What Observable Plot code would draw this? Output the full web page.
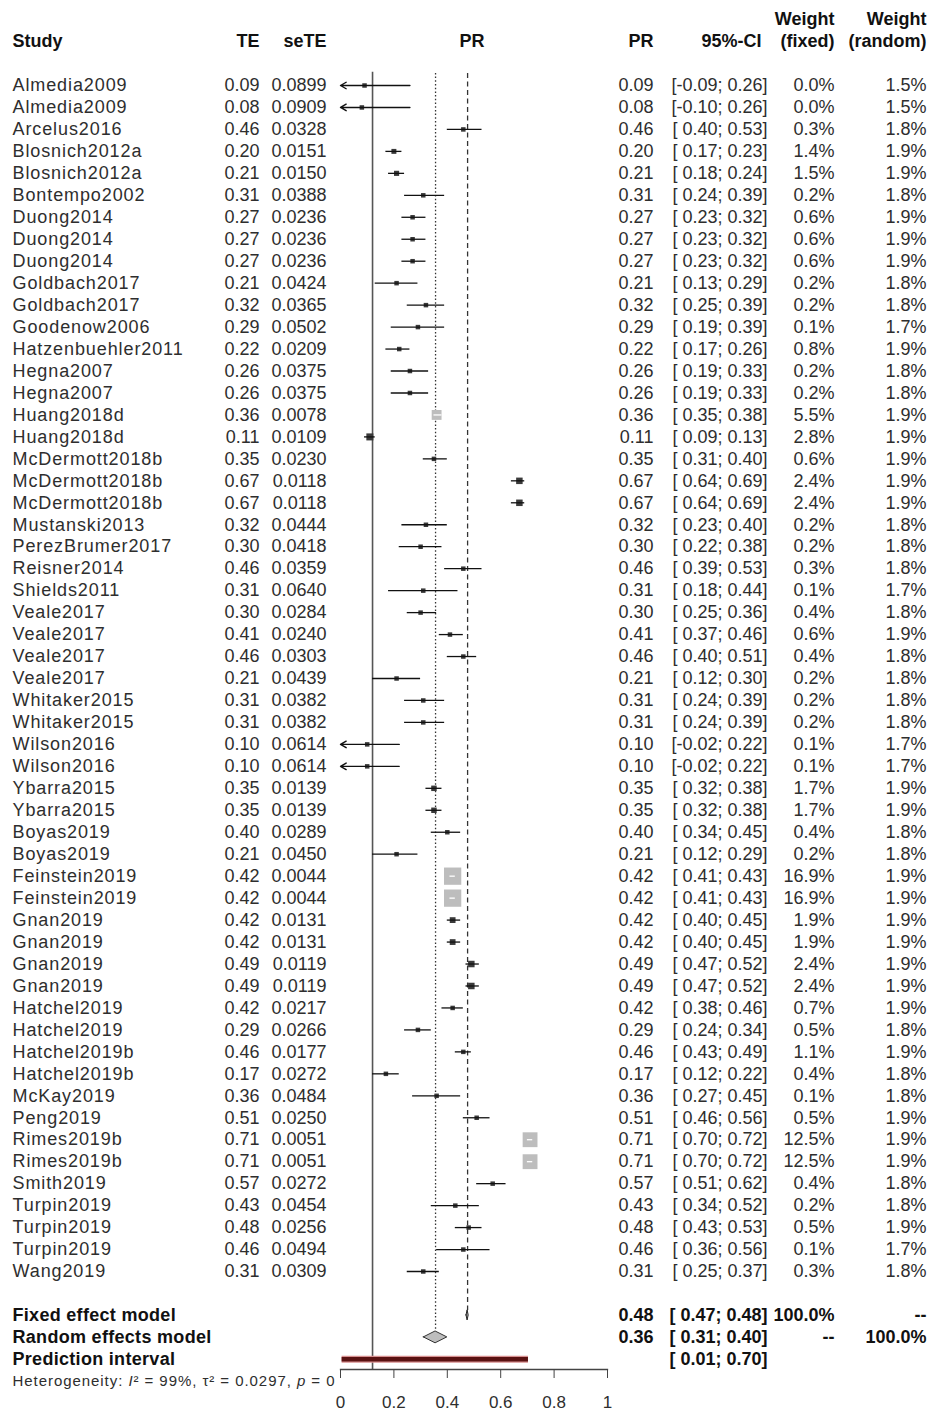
<!DOCTYPE html>
<html>
<head>
<meta charset="utf-8">
<script src="https://cdn.jsdelivr.net/npm/d3@7"></script>
<script src="https://cdn.jsdelivr.net/npm/@observablehq/plot@0.6"></script>
<style>
  html, body { margin: 0; padding: 0; background: #fff; }
  #chart svg { display: block; }
</style>
</head>
<body>
<div id="chart"></div>
<script>
// ---------------- data ----------------
const studies = ["Almedia2009","Almedia2009","Arcelus2016","Blosnich2012a","Blosnich2012a","Bontempo2002","Duong2014","Duong2014","Duong2014","Goldbach2017","Goldbach2017","Goodenow2006","Hatzenbuehler2011","Hegna2007","Hegna2007","Huang2018d","Huang2018d","McDermott2018b","McDermott2018b","McDermott2018b","Mustanski2013","PerezBrumer2017","Reisner2014","Shields2011","Veale2017","Veale2017","Veale2017","Veale2017","Whitaker2015","Whitaker2015","Wilson2016","Wilson2016","Ybarra2015","Ybarra2015","Boyas2019","Boyas2019","Feinstein2019","Feinstein2019","Gnan2019","Gnan2019","Gnan2019","Gnan2019","Hatchel2019","Hatchel2019","Hatchel2019b","Hatchel2019b","McKay2019","Peng2019","Rimes2019b","Rimes2019b","Smith2019","Turpin2019","Turpin2019","Turpin2019","Wang2019"];
const TE = [0.09,0.08,0.46,0.20,0.21,0.31,0.27,0.27,0.27,0.21,0.32,0.29,0.22,0.26,0.26,0.36,0.11,0.35,0.67,0.67,0.32,0.30,0.46,0.31,0.30,0.41,0.46,0.21,0.31,0.31,0.10,0.10,0.35,0.35,0.40,0.21,0.42,0.42,0.42,0.42,0.49,0.49,0.42,0.29,0.46,0.17,0.36,0.51,0.71,0.71,0.57,0.43,0.48,0.46,0.31];
const seTE = [0.0899,0.0909,0.0328,0.0151,0.0150,0.0388,0.0236,0.0236,0.0236,0.0424,0.0365,0.0502,0.0209,0.0375,0.0375,0.0078,0.0109,0.0230,0.0118,0.0118,0.0444,0.0418,0.0359,0.0640,0.0284,0.0240,0.0303,0.0439,0.0382,0.0382,0.0614,0.0614,0.0139,0.0139,0.0289,0.0450,0.0044,0.0044,0.0131,0.0131,0.0119,0.0119,0.0217,0.0266,0.0177,0.0272,0.0484,0.0250,0.0051,0.0051,0.0272,0.0454,0.0256,0.0494,0.0309];
const ciLower = [-0.09,-0.10,0.40,0.17,0.18,0.24,0.23,0.23,0.23,0.13,0.25,0.19,0.17,0.19,0.19,0.35,0.09,0.31,0.64,0.64,0.23,0.22,0.39,0.18,0.25,0.37,0.40,0.12,0.24,0.24,-0.02,-0.02,0.32,0.32,0.34,0.12,0.41,0.41,0.40,0.40,0.47,0.47,0.38,0.24,0.43,0.12,0.27,0.46,0.70,0.70,0.51,0.34,0.43,0.36,0.25];
const ciUpper = [0.26,0.26,0.53,0.23,0.24,0.39,0.32,0.32,0.32,0.29,0.39,0.39,0.26,0.33,0.33,0.38,0.13,0.40,0.69,0.69,0.40,0.38,0.53,0.44,0.36,0.46,0.51,0.30,0.39,0.39,0.22,0.22,0.38,0.38,0.45,0.29,0.43,0.43,0.45,0.45,0.52,0.52,0.46,0.34,0.49,0.22,0.45,0.56,0.72,0.72,0.62,0.52,0.53,0.56,0.37];
const wFixed = [0.0,0.0,0.3,1.4,1.5,0.2,0.6,0.6,0.6,0.2,0.2,0.1,0.8,0.2,0.2,5.5,2.8,0.6,2.4,2.4,0.2,0.2,0.3,0.1,0.4,0.6,0.4,0.2,0.2,0.2,0.1,0.1,1.7,1.7,0.4,0.2,16.9,16.9,1.9,1.9,2.4,2.4,0.7,0.5,1.1,0.4,0.1,0.5,12.5,12.5,0.4,0.2,0.5,0.1,0.3];
const wRandom = [1.5,1.5,1.8,1.9,1.9,1.8,1.9,1.9,1.9,1.8,1.8,1.7,1.9,1.8,1.8,1.9,1.9,1.9,1.9,1.9,1.8,1.8,1.8,1.7,1.8,1.9,1.8,1.8,1.8,1.8,1.7,1.7,1.9,1.9,1.8,1.8,1.9,1.9,1.9,1.9,1.9,1.9,1.9,1.8,1.9,1.8,1.8,1.9,1.9,1.9,1.8,1.8,1.9,1.7,1.8];

const fixedModel  = {label: "Fixed effect model",   TE: 0.476, lower: 0.472, upper: 0.480, wF: "100.0%", wR: "--"};
const randomModel = {label: "Random effects model", TE: 0.356, lower: 0.312, upper: 0.400, wF: "--",     wR: "100.0%"};
const predInterval = {label: "Prediction interval", lower: 0.006, upper: 0.704};
const refLine = 0.12;
const heterogeneity = {I2: 99, tau2: 0.0297, p: 0};
const xTicks = [0, 0.2, 0.4, 0.6, 0.8, 1];

// ---------------- layout ----------------
const W = 932, H = 1412;
const ML = 340, MR = 325, MB = 43;
const ROW0 = 85, ROWH = 21.963;
const nStudies = studies.length;
const rowFixed = nStudies + 1, rowRandom = nStudies + 2, rowPred = nStudies + 3, rowHet = nStudies + 4;
const axisRow = (H - MB - ROW0) / ROWH;
const pxPerUnit = W - ML - MR;
const col = {study: 12, te: 259, se: 326, pr: 653, ci: 767, ciHead: 761, wf: 834, wr: 926};
const FS = 18;
const TXT = "#2e2e2e";
const SQ = "#bdbdbd";
const SQ_DARK = "#3a3a3a";

const fmt2 = v => v.toFixed(2);
const fmtCI = (lo, hi) => "[" + (lo < 0 ? fmt2(lo) : " " + fmt2(lo)) + "; " + fmt2(hi) + "]";

const rows = studies.map((s, i) => {
  const side = Math.max(4.5, 4.2 * Math.sqrt(wFixed[i]));
  const half = side / 2 / pxPerUnit;
  const inside = (TE[i] - 1.96 * seTE[i]) >= TE[i] - half && (TE[i] + 1.96 * seTE[i]) <= TE[i] + half;
  return {
    i, study: s, te: TE[i], se: seTE[i], lo: ciLower[i], hi: ciUpper[i],
    loC: Math.max(0, ciLower[i]), clipped: ciLower[i] < 0,
    r: side / Math.sqrt(Math.PI), inside,
    teTxt: fmt2(TE[i]), seTxt: seTE[i].toFixed(4), ciTxt: fmtCI(ciLower[i], ciUpper[i]),
    wfTxt: wFixed[i].toFixed(1) + "%", wrTxt: wRandom[i].toFixed(1) + "%"
  };
});

const summary = [
  {row: rowFixed, ...fixedModel},
  {row: rowRandom, ...randomModel}
];
const diamond = (m, row, h) => [
  {x: m.lower, y1: row, y2: row},
  {x: m.TE, y1: row - h, y2: row + h},
  {x: m.upper, y1: row, y2: row}
];

const headers = [
  {t: "Study", row: -2, c: col.study, a: "start"},
  {t: "TE", row: -2, c: col.te, a: "end"},
  {t: "seTE", row: -2, c: col.se, a: "end"},
  {t: "PR", row: -2, c: col.pr, a: "end"},
  {t: "95%-CI", row: -2, c: col.ciHead, a: "end"},
  {t: "Weight", row: -3, c: col.wf, a: "end"},
  {t: "(fixed)", row: -2, c: col.wf, a: "end"},
  {t: "Weight", row: -3, c: col.wr, a: "end"},
  {t: "(random)", row: -2, c: col.wr, a: "end"}
];

const textCol = (data, opts) => Plot.text(data, {
  frameAnchor: "left", textAnchor: "end", fontSize: FS, fill: TXT, ...opts,
  dx: opts.dx - ML
});

const hetText = `Heterogeneity: I² = ${heterogeneity.I2}%, τ² = ${heterogeneity.tau2}, p = ${heterogeneity.p}`;

const chart = Plot.plot({
  width: W, height: H,
  marginLeft: ML, marginRight: MR, marginTop: 0, marginBottom: MB,
  style: {fontFamily: "'Liberation Sans', Arial, sans-serif", background: "#fff"},
  x: {domain: [0, 1], axis: null},
  y: {domain: [0, nStudies - 1], range: [ROW0, ROW0 + (nStudies - 1) * ROWH], axis: null},
  r: {type: "identity"},
  marks: [
    // reference lines
    Plot.ruleX([refLine], {y1: -0.6, y2: axisRow, stroke: "#555", strokeWidth: 1.6}),
    Plot.ruleX([randomModel.TE], {y1: -0.55, y2: rowRandom - 0.27, stroke: "#333", strokeWidth: 1.3, strokeDasharray: "1.5,2.2"}),
    Plot.ruleX([fixedModel.TE], {y1: -0.55, y2: rowFixed - 0.23, stroke: "#333", strokeWidth: 1.3, strokeDasharray: "5,3.5"}),
    // squares
    Plot.dot(rows, {x: "te", y: "i", r: "r", symbol: "square", fill: d => d.inside ? SQ : SQ_DARK, stroke: "none"}),
    // CI lines
    Plot.ruleY(rows.filter(d => !d.inside && !d.clipped), {y: "i", x1: "lo", x2: "hi", stroke: "#111", strokeWidth: 1.3}),
    Plot.ruleY(rows.filter(d => d.inside), {y: "i", x1: "lo", x2: "hi", stroke: "#fff", strokeWidth: 1.3}),
    Plot.arrow(rows.filter(d => d.clipped), {x1: "hi", x2: "loC", y1: "i", y2: "i", stroke: "#111", strokeWidth: 1.4, headLength: 7, headAngle: 60}),
    // summary diamonds
    Plot.areaY(diamond(fixedModel, rowFixed, 0.23), {x: "x", y1: "y1", y2: "y2", fill: SQ, stroke: "#222", strokeWidth: 1}),
    Plot.areaY(diamond(randomModel, rowRandom, 0.27), {x: "x", y1: "y1", y2: "y2", fill: SQ, stroke: "#333", strokeWidth: 1}),
    // prediction interval
    Plot.ruleY([predInterval], {y: () => rowPred, x1: "lower", x2: "upper", stroke: "#d89090", strokeWidth: 7}),
    Plot.ruleY([predInterval], {y: () => rowPred, x1: "lower", x2: "upper", stroke: "#5a1212", strokeWidth: 4.5}),
    // x axis
    Plot.frame({anchor: "bottom", stroke: "#444", strokeWidth: 1.3}),
    Plot.axisX({ticks: xTicks, tickFormat: d => String(d), tickSize: 9, tickPadding: 17, fontSize: 17, stroke: "#444", fill: TXT}),
    // headers
    ...headers.map(h => textCol([h], {y: "row", text: "t", dx: h.c, textAnchor: h.a, fontWeight: "bold", fill: "#111"})),
    Plot.text([{t: "PR", row: -2}], {y: "row", text: "t", frameAnchor: "middle", dx: -2, fontSize: FS, fontWeight: "bold", fill: "#111"}),
    // study columns
    textCol(rows, {y: "i", text: "study", dx: col.study, textAnchor: "start"}),
    textCol(rows, {y: "i", text: "teTxt", dx: col.te}),
    textCol(rows, {y: "i", text: "seTxt", dx: col.se}),
    textCol(rows, {y: "i", text: "teTxt", dx: col.pr}),
    textCol(rows, {y: "i", text: "ciTxt", dx: col.ci}),
    textCol(rows, {y: "i", text: "wfTxt", dx: col.wf}),
    textCol(rows, {y: "i", text: "wrTxt", dx: col.wr}),
    // summary rows
    textCol(summary, {y: "row", text: "label", dx: col.study, textAnchor: "start", fontWeight: "bold", fill: "#111"}),
    textCol(summary, {y: "row", text: d => fmt2(d.TE), dx: col.pr, fontWeight: "bold", fill: "#111"}),
    textCol(summary, {y: "row", text: d => fmtCI(d.lower, d.upper), dx: col.ci, fontWeight: "bold", fill: "#111"}),
    textCol(summary, {y: "row", text: "wF", dx: col.wf, fontWeight: "bold", fill: "#111"}),
    textCol(summary, {y: "row", text: "wR", dx: col.wr, fontWeight: "bold", fill: "#111"}),
    textCol([predInterval], {y: () => rowPred, text: "label", dx: col.study, textAnchor: "start", fontWeight: "bold", fill: "#111"}),
    textCol([predInterval], {y: () => rowPred, text: d => fmtCI(d.lower, d.upper), dx: col.ci, fontWeight: "bold", fill: "#111"}),
    textCol([hetText], {y: () => rowHet, text: d => d, dx: col.study, textAnchor: "start", fontSize: 15})
  ]
});
document.getElementById("chart").appendChild(chart);

// typographic touch-ups (matched by text content)
const nameSet = new Set(studies);
const labelSet = new Set([fixedModel.label, randomModel.label, predInterval.label]);
for (const t of chart.querySelectorAll("text")) {
  const s = t.textContent;
  if (nameSet.has(s)) t.style.letterSpacing = "0.9px";
  else if (labelSet.has(s)) t.style.letterSpacing = "0.3px";
  else if (s === hetText) {
    const parts = [
      ["Heterogeneity: ", false], ["I", true], ["² = " + heterogeneity.I2 + "%, ", false],
      ["τ", false], ["² = " + heterogeneity.tau2 + ", ", false], ["p", true], [" = " + heterogeneity.p, false]
    ];
    t.textContent = "";
    for (const [str, it] of parts) {
      const ts = document.createElementNS("http://www.w3.org/2000/svg", "tspan");
      ts.textContent = str;
      if (it) ts.setAttribute("font-style", "italic");
      t.appendChild(ts);
    }
    t.setAttribute("textLength", 322);
    t.setAttribute("lengthAdjust", "spacing");
  }
}
</script>
</body>
</html>
